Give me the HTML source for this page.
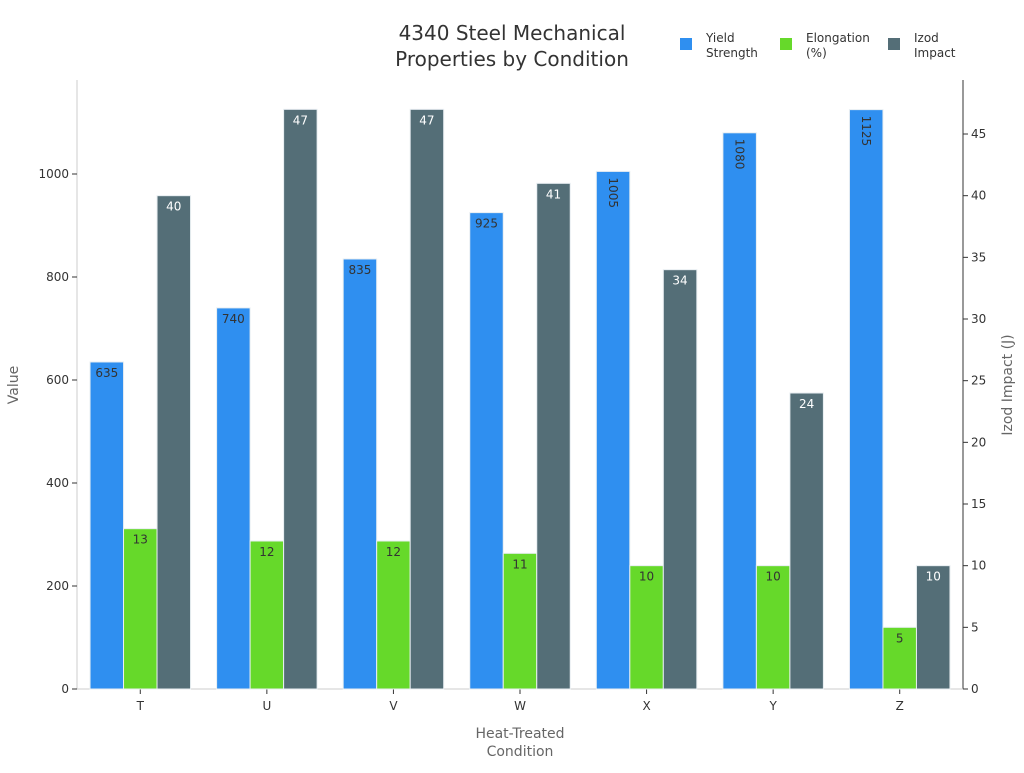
<!DOCTYPE html>
<html><head><meta charset="utf-8"><style>
body{margin:0;background:#fff;font-family:"Liberation Sans","DejaVu Sans",sans-serif;}
svg text{font-family:"DejaVu Sans","Liberation Sans",sans-serif;}
</style></head><body>
<svg id="chart" width="1024" height="768" xmlns="http://www.w3.org/2000/svg">
<text x="512" y="40" text-anchor="middle" font-size="20" fill="#333">4340 Steel Mechanical</text>
<text x="512" y="66" text-anchor="middle" font-size="20" fill="#333">Properties by Condition</text>
<g font-size="12" fill="#333">
<rect x="680" y="38" width="12" height="12" fill="#2f8ff0"/>
<text x="706" y="42">Yield</text><text x="706" y="57">Strength</text>
<rect x="780" y="38" width="12" height="12" fill="#66d92a"/>
<text x="806" y="42">Elongation</text><text x="806" y="57">(%)</text>
<rect x="888" y="38" width="12" height="12" fill="#546e77"/>
<text x="914" y="42">Izod</text><text x="914" y="57">Impact</text>
</g>
<text transform="translate(18,385) rotate(-90)" text-anchor="middle" font-size="14" fill="#666">Value</text>
<text transform="translate(1012,385) rotate(-90)" text-anchor="middle" font-size="14" fill="#666">Izod Impact (J)</text>
<text x="520" y="738" text-anchor="middle" font-size="14" fill="#666">Heat-Treated</text>
<text x="520" y="756" text-anchor="middle" font-size="14" fill="#666">Condition</text>
<g id="plot"></g>
</svg>
<script>
const categories=["T","U","V","W","X","Y","Z"];
const yieldStrength=[635,740,835,925,1005,1080,1125];
const elongation=[13,12,12,11,10,10,5];
const izod=[40,47,47,41,34,24,10];
const leftTicks=[0,200,400,600,800,1000];
const rightTicks=[0,5,10,15,20,25,30,35,40,45];
const NS="http://www.w3.org/2000/svg";
const g=document.getElementById('plot');
const x0=77,x1=963,yBase=689,yTop=80;
const yL=v=>yBase-v*0.515;
const yR=v=>yBase-v*12.333;
const step=(x1-x0)/categories.length;
const cx=i=>x0+step*(i+0.5);
const bw=33.5;
function el(t,a){const e=document.createElementNS(NS,t);for(const k in a)e.setAttribute(k,a[k]);g.appendChild(e);return e;}
let e;
e=el('line',{x1:x0,y1:yTop,x2:x0,y2:yBase,stroke:'#ccc'});


e=el('line',{x1:x1,y1:yTop,x2:x1,y2:yBase,stroke:'#333'});


e=el('line',{x1:x0,y1:yBase,x2:x1,y2:yBase,stroke:'#ccc'});


leftTicks.forEach(v=>{
 el('line',{x1:x0-5,y1:yL(v),x2:x0,y2:yL(v),stroke:'#333'});
 e=el('text',{x:x0-8,y:yL(v)+4,'text-anchor':'end','font-size':12,fill:'#333'});e.textContent=v;
 
 
});
rightTicks.forEach(v=>{
 el('line',{x1:x1,y1:yR(v),x2:x1+5,y2:yR(v),stroke:'#333'});
 e=el('text',{x:x1+8,y:yR(v)+4,'font-size':12,fill:'#333'});e.textContent=v;
 
 
});
categories.forEach((c,i)=>{
 const c0=cx(i);
 el('line',{x1:c0,y1:yBase,x2:c0,y2:yBase+5,stroke:'#333'});
 e=el('text',{x:c0,y:yBase+21,'text-anchor':'middle','font-size':12,fill:'#333'});e.textContent=c;
 
 
 const series=[[yieldStrength[i],yL,'#2f8ff0','#333','yield'],[elongation[i],yR,'#66d92a','#333','elongation'],[izod[i],yR,'#546e77','#fff','izod']];
 series.forEach((s,j)=>{
  const bx=c0-1.5*bw+j*bw, top=s[1](s[0]);
  e=el('rect',{x:bx,y:top,width:bw,height:yBase-top,fill:s[2],stroke:'#e8eef2','stroke-width':1});
  
  
  const str=String(s[0]);
  if(str.length>=4){
   e=el('text',{transform:`translate(${bx+bw/2-4},${top+6}) rotate(90)`,'font-size':12,fill:s[3]});
  }else{
   e=el('text',{x:bx+bw/2,y:top+15,'text-anchor':'middle','font-size':12,fill:s[3]});
  }
  e.textContent=str;
  
  
 });
});
</script>
</body></html>
